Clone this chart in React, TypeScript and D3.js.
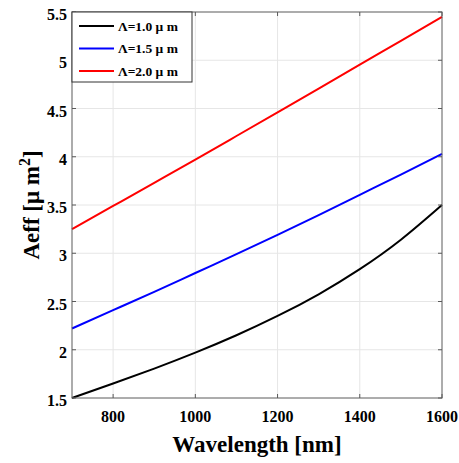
import React from "react";
import * as d3 from "d3";

const wavelengths = [700, 800, 900, 1000, 1100, 1200, 1300, 1400, 1500, 1600];
const aeff10 = [1.5, 1.65, 1.805, 1.97, 2.15, 2.35, 2.575, 2.835, 3.14, 3.5];
const aeff15 = [2.22, 2.41, 2.6, 2.795, 2.99, 3.19, 3.395, 3.605, 3.815, 4.03];
const aeff20 = [3.25, 3.49, 3.73, 3.97, 4.215, 4.46, 4.705, 4.955, 5.2, 5.45];
const seriesLabels = ["Λ=1.0 μ m", "Λ=1.5 μ m", "Λ=2.0 μ m"];
const seriesColors = ["#000000", "#0000ff", "#ff0000"];
const xTicks = [800, 1000, 1200, 1400, 1600];
const yTicks = [1.5, 2, 2.5, 3, 3.5, 4, 4.5, 5, 5.5];

const W = 459;
const H = 463;
const L = 72, R = 442, T = 12, B = 398;
const FONT = "'Liberation Serif', 'Times New Roman', serif";

export default function App() {
  const x = d3.scaleLinear().domain([700, 1600]).range([L, R]);
  const y = d3.scaleLinear().domain([1.5, 5.5]).range([B, T]);
  const line = d3
    .line<[number, number]>()
    .x((d) => x(d[0]))
    .y((d) => y(d[1]))
    .curve(d3.curveNatural);
  const series = [aeff10, aeff15, aeff20];
  const gridX = [800, 1000, 1200, 1400];
  const gridY = yTicks.slice(1, -1);
  const tk = 4;
  return (
    <svg width={W} height={H} style={{ position: "absolute", left: 0, top: 0, background: "#fff" }}>
      <rect x={0} y={0} width={W} height={H} fill="#fff" />
      {gridX.map((v) => (
        <line key={"gx" + v} x1={x(v)} x2={x(v)} y1={T} y2={B} stroke="#e6e6e6" strokeWidth={1} />
      ))}
      {gridY.map((v) => (
        <line key={"gy" + v} x1={L} x2={R} y1={y(v)} y2={y(v)} stroke="#e6e6e6" strokeWidth={1} />
      ))}
      {series.map((s, i) => (
        <path
          key={"s" + i}
          d={line(wavelengths.map((w, j) => [w, s[j]] as [number, number])) || ""}
          fill="none"
          stroke={seriesColors[i]}
          strokeWidth={2}
        />
      ))}
      <rect x={L} y={T} width={R - L} height={B - T} fill="none" stroke="#5a5a5a" strokeWidth={1} />
      {xTicks.map((v) => (
        <g key={"xt" + v}>
          <line x1={x(v)} x2={x(v)} y1={B} y2={B - tk} stroke="#5a5a5a" />
          <line x1={x(v)} x2={x(v)} y1={T} y2={T + tk} stroke="#5a5a5a" />
          <text x={x(v)} y={B + 24} textAnchor="middle" fontFamily={FONT} fontWeight="bold" fontSize={16} fill="#000">
            {v}
          </text>
        </g>
      ))}
      {yTicks.map((v) => (
        <g key={"yt" + v}>
          <line x1={L} x2={L + tk} y1={y(v)} y2={y(v)} stroke="#5a5a5a" />
          <line x1={R} x2={R - tk} y1={y(v)} y2={y(v)} stroke="#5a5a5a" />
          <text x={L - 5} y={y(v) + 8} textAnchor="end" fontFamily={FONT} fontWeight="bold" fontSize={16} fill="#000">
            {v}
          </text>
        </g>
      ))}
      <text x={(L + R) / 2} y={452} textAnchor="middle" fontFamily={FONT} fontWeight="bold" fontSize={23} fill="#000">
        Wavelength [nm]
      </text>
      <text
        transform={`translate(39, ${(T + B) / 2}) rotate(-90)`}
        textAnchor="middle"
        fontFamily={FONT}
        fontWeight="bold"
        fontSize={23}
        fill="#000"
      >
        Aeff [μ m<tspan fontSize={16} dy={-9}>2</tspan>
        <tspan dy={9}>]</tspan>
      </text>
      <g>
        <rect x={L} y={T} width={120} height={70} fill="#fff" stroke="#333" strokeWidth={1} />
        {seriesLabels.map((lab, i) => {
          const cy = 26 + i * 22.5;
          return (
            <g key={"lg" + i}>
              <line x1={79} x2={114} y1={cy} y2={cy} stroke={seriesColors[i]} strokeWidth={2} />
              <text x={118} y={cy + 4.5} fontFamily={FONT} fontWeight="bold" fontSize={13.5} fill="#000">
                {lab}
              </text>
            </g>
          );
        })}
      </g>
    </svg>
  );
}
